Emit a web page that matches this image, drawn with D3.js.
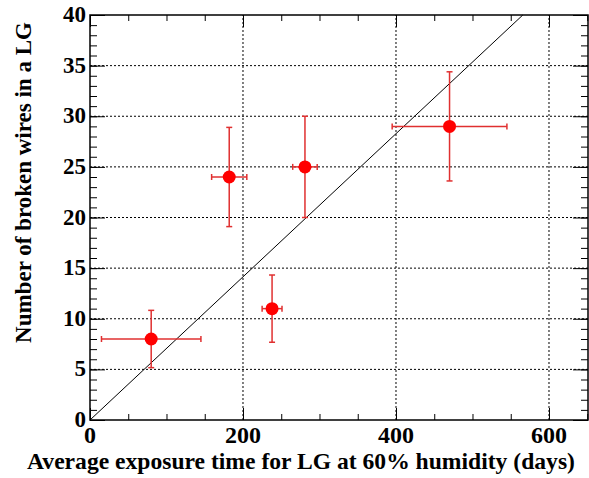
<!DOCTYPE html>
<html><head><meta charset="utf-8">
<script src="https://d3js.org/d3.v7.min.js"></script>
<style>body{margin:0;background:#fff}svg{display:block}
text{font-family:"Liberation Serif","DejaVu Serif",serif;font-weight:bold}</style>
</head><body>
<script>
const xValues = [80, 182, 238, 281, 470];
const yValues = [8, 24, 11, 25, 29];
const xErrors = [65, 23, 13, 16, 75];
const yErrors = [2.83, 4.9, 3.32, 5.0, 5.39];
const fitSlope = 0.0707;
const xTicks = [0, 200, 400, 600];
const yTicks = [0, 5, 10, 15, 20, 25, 30, 35, 40];

const W = 589, H = 478;
const m = {l: 90, r: 1, t: 15, b: 58};
const svg = d3.select("body").append("svg").attr("width", W).attr("height", H);
const x = d3.scaleLinear().domain([0, 651]).range([m.l, W - m.r]);
const y = d3.scaleLinear().domain([0, 40]).range([H - m.b, m.t]);

// grid
const g = svg.append("g");
g.selectAll("line.gx").data(xTicks.filter(d => d > 0)).join("line")
  .attr("x1", d => x(d)).attr("x2", d => x(d)).attr("y1", y(0)).attr("y2", y(40))
  .attr("stroke", "#000").attr("stroke-width", 1).attr("stroke-dasharray", "2,2");
g.selectAll("line.gy").data(yTicks.filter(d => d > 0 && d < 40)).join("line")
  .attr("y1", d => y(d)).attr("y2", d => y(d)).attr("x1", x.range()[0]).attr("x2", x.range()[1])
  .attr("stroke", "#000").attr("stroke-width", 1).attr("stroke-dasharray", "2,2");

// axes with ticks
const xMinor = d3.range(0, 651, 50);
const yMinor = d3.range(0, 41, 1);
function addAxis(axisGen, tr) {
  return svg.append("g").attr("transform", tr).call(axisGen)
    .call(s => s.select(".domain").remove());
}
addAxis(d3.axisTop(x).tickValues(xMinor).tickSize(6).tickFormat(""), `translate(0,${y(0)})`);
addAxis(d3.axisTop(x).tickValues(xTicks).tickSize(12).tickFormat(""), `translate(0,${y(0)})`);
addAxis(d3.axisBottom(x).tickValues(xMinor).tickSize(6).tickFormat(""), `translate(0,${y(40)})`);
addAxis(d3.axisBottom(x).tickValues(xTicks).tickSize(12).tickFormat(""), `translate(0,${y(40)})`);
addAxis(d3.axisRight(y).tickValues(yMinor).tickSize(7).tickFormat(""), `translate(${x(0)},0)`);
addAxis(d3.axisRight(y).tickValues(yTicks).tickSize(15).tickFormat(""), `translate(${x(0)},0)`);
addAxis(d3.axisLeft(y).tickValues(yMinor).tickSize(7).tickFormat(""), `translate(${x.range()[1]},0)`);
addAxis(d3.axisLeft(y).tickValues(yTicks).tickSize(15).tickFormat(""), `translate(${x.range()[1]},0)`);
svg.selectAll(".tick line").attr("stroke", "#000").attr("stroke-width", 1);

// tick labels
svg.append("g").selectAll("text").data(xTicks).join("text")
  .attr("x", d => x(d)).attr("y", y(0) + 23).attr("text-anchor", "middle")
  .attr("font-size", 24).text(d => d);
svg.append("g").selectAll("text").data(yTicks).join("text")
  .attr("x", x(0) - 4).attr("y", d => y(d) + 7).attr("text-anchor", "end")
  .attr("font-size", 23).text(d => d);

// frame
svg.append("rect").attr("x", x.range()[0]).attr("y", y(40))
  .attr("width", x.range()[1] - x.range()[0]).attr("height", y(0) - y(40))
  .attr("fill", "none").attr("stroke", "#000").attr("stroke-width", 1.5);

// titles
svg.append("text").attr("x", 301).attr("y", 469).attr("text-anchor", "middle")
  .attr("font-size", 23.6)
  .text("Average exposure time for LG at 60% humidity (days)");
svg.append("text").attr("transform", `translate(31,${(15 + 350) / 2}) rotate(-90)`)
  .attr("text-anchor", "middle")
  .attr("font-size", 23)
  .text("Number of broken wires in a LG");

// fit line
const xEnd = 40 / fitSlope;
svg.append("line").attr("x1", x(0)).attr("y1", y(0)).attr("x2", x(xEnd)).attr("y2", y(fitSlope * xEnd))
  .attr("stroke", "#000").attr("stroke-width", 1);

// data
const pts = xValues.map((v, i) => ({x: v, y: yValues[i], ex: xErrors[i], ey: yErrors[i]}));
const eb = svg.append("g").attr("stroke", "#e03030").attr("stroke-width", 1.5);
const cap = 3;
pts.forEach(p => {
  eb.append("line").attr("x1", x(p.x - p.ex)).attr("x2", x(p.x + p.ex)).attr("y1", y(p.y)).attr("y2", y(p.y));
  eb.append("line").attr("x1", x(p.x)).attr("x2", x(p.x)).attr("y1", y(p.y - p.ey)).attr("y2", y(p.y + p.ey));
  eb.append("line").attr("x1", x(p.x - p.ex)).attr("x2", x(p.x - p.ex)).attr("y1", y(p.y) - cap).attr("y2", y(p.y) + cap);
  eb.append("line").attr("x1", x(p.x + p.ex)).attr("x2", x(p.x + p.ex)).attr("y1", y(p.y) - cap).attr("y2", y(p.y) + cap);
  eb.append("line").attr("y1", y(p.y - p.ey)).attr("y2", y(p.y - p.ey)).attr("x1", x(p.x) - cap).attr("x2", x(p.x) + cap);
  eb.append("line").attr("y1", y(p.y + p.ey)).attr("y2", y(p.y + p.ey)).attr("x1", x(p.x) - cap).attr("x2", x(p.x) + cap);
});
svg.append("g").selectAll("circle").data(pts).join("circle")
  .attr("cx", d => x(d.x)).attr("cy", d => y(d.y)).attr("r", 6.5).attr("fill", "#ff0000");
</script>
</body></html>
